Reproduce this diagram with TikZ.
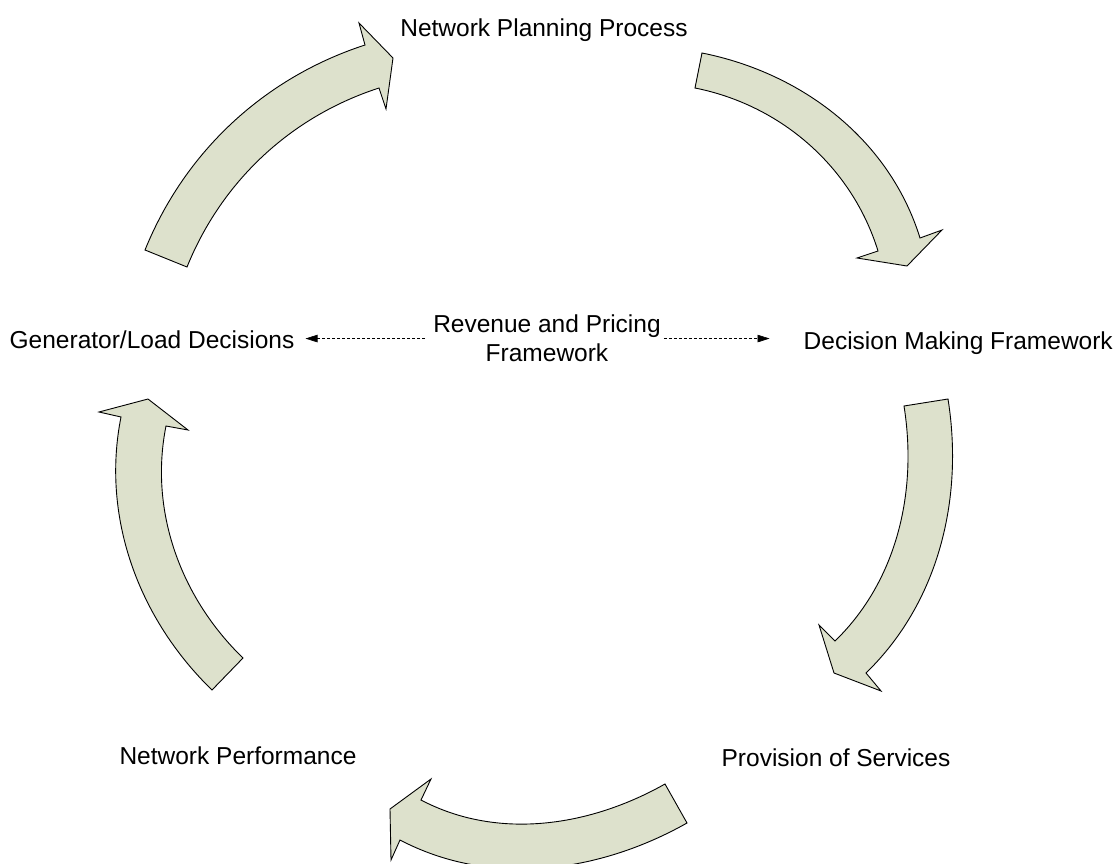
\documentclass[tikz,border=0pt]{standalone}
\usepackage{fontspec}
\setmainfont{Liberation Sans}
\usetikzlibrary{arrows.meta}
\definecolor{bandfill}{RGB}{221,225,204}
\begin{document}
\begin{tikzpicture}[x=1pt,y=-1pt,
  bandarrow/.style={fill=bandfill, draw=black, line width=0.9pt, line join=miter},
  txt/.style={font=\fontsize{24.5}{28.7}\selectfont, inner sep=0pt, align=center},
  link/.style={densely dashed, line width=0.6pt, -{Triangle[length=12pt,width=7.5pt]}}]
\useasboundingbox (0,0) rectangle (1119,864);

% labels around the cycle
\node[txt, anchor=base] (plan) at (544,37) {Network Planning Process};
\node[txt, anchor=base east] (decide) at (1113,349) {Decision Making Framework};
\node[txt, anchor=base] (gen) at (152,348) {Generator/Load Decisions};
\node[txt, anchor=north] (rev) at (547,315) {Revenue and Pricing\\Framework};
\node[txt, anchor=base] (prov) at (836,766) {Provision of Services};
\node[txt, anchor=base] (perf) at (238,764) {Network Performance};

% dashed links from the centre label
\draw[link, shorten <=8pt, shorten >=11pt] (rev.west) -- (rev.west -| gen.east);
\draw[link, shorten <=3pt, shorten >=34pt] (rev.east) -- (rev.east -| decide.west);

% curved block arrows, clockwise
\draw[bandarrow] (145,250) .. controls (184.8,151.7) and (264.2,77.8) .. (365,45)
  -- (359,23) -- (393,58) -- (386,109) -- (379,88)
  .. controls (290.8,116.6) and (221.8,181.1) .. (187,267) -- cycle;

\draw[bandarrow] (702,53) .. controls (802.7,73.1) and (889.6,139.9) .. (920,238)
  -- (942,230) -- (907,266) -- (857,258) -- (878,251)
  .. controls (852,167) and (781.3,105.2) .. (695,88) -- cycle;

\draw[bandarrow] (948,399) .. controls (963.9,498.8) and (938.5,602.7) .. (866,673)
  -- (881,691) -- (834,673) -- (819,625) -- (835,641)
  .. controls (897.1,580.8) and (917.6,491.5) .. (904,406) -- cycle;

\draw[bandarrow] (687,823) .. controls (598.2,873.1) and (490.3,887.4) .. (400,840)
  -- (391,860) -- (390,809) -- (431,779) -- (421,800)
  .. controls (497.8,840.4) and (589.4,826.6) .. (665,784) -- cycle;

\draw[bandarrow] (212,690) .. controls (138.7,618.9) and (101,517.2) .. (121,417)
  -- (99,412) -- (148,399) -- (188,430) -- (166,426)
  .. controls (149,511) and (180.7,597.7) .. (243,658) -- cycle;
\end{tikzpicture}
\end{document}
